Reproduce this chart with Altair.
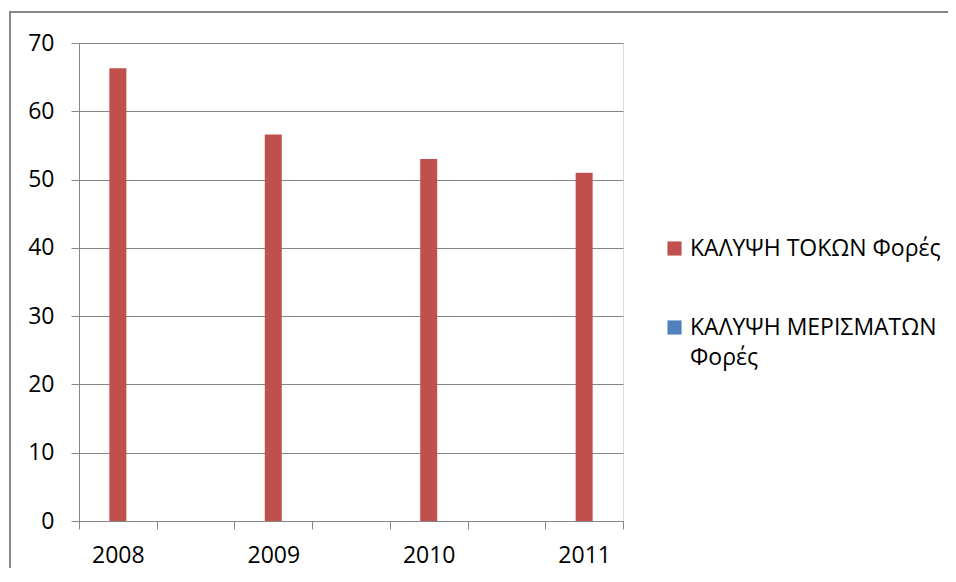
import altair as alt
import pandas as pd

# categories on the x axis (Excel-style blank slots between the years)
x_slots = ["2008", "·1", "2009", "·2", "2010", "·3", "2011"]
years = ["2008", "2009", "2010", "2011"]
series_names = ["ΚΑΛΥΨΗ ΤΟΚΩΝ Φορές", "ΚΑΛΥΨΗ ΜΕΡΙΣΜΑΤΩΝ Φορές"]
tokon_values = [66.3, 56.6, 53.0, 51.0]
colors = ["#C0504D", "#4F81BD"]

df = pd.DataFrame({
    "slot": years,
    "series": [series_names[0]] * len(years),
    "value": tokon_values,
})

FONT = "Open Sans"
GRID = "#868686"

bars = alt.Chart(df).mark_bar(size=17).encode(
    x=alt.X(
        "slot:N",
        sort=x_slots,
        scale=alt.Scale(domain=x_slots, paddingInner=0, paddingOuter=0),
        axis=alt.Axis(
            title=None,
            labelExpr="indexof(datum.label, '·') == 0 ? '' : datum.label",
            labelAngle=0,
            tickBand="extent",
            tickSize=8,
            tickColor=GRID,
            domainColor=GRID,
            labelPadding=15,
            labelFont=FONT,
            labelFontSize=23,
            labelColor="#000000",
            grid=False,
        ),
    ),
    y=alt.Y(
        "value:Q",
        scale=alt.Scale(domain=[0, 70], nice=False),
        axis=alt.Axis(
            title=None,
            values=[0, 10, 20, 30, 40, 50, 60, 70],
            tickSize=8,
            tickColor=GRID,
            domainColor=GRID,
            gridColor=GRID,
            grid=True,
            labelPadding=17,
            labelFont=FONT,
            labelFontSize=23,
            labelColor="#000000",
        ),
    ),
    color=alt.Color(
        "series:N",
        scale=alt.Scale(domain=series_names, range=colors),
        legend=alt.Legend(
            title=None,
            orient="none",
            legendX=584,
            legendY=194,
            symbolType="square",
            symbolSize=200,
            symbolStrokeWidth=0,
            labelFont=FONT,
            labelFontSize=23,
            labelColor="#000000",
            labelLimit=400,
            labelOffset=4,
            labelBaseline="middle",
            rowPadding=55,
            labelExpr="datum.label == 'ΚΑΛΥΨΗ ΜΕΡΙΣΜΑΤΩΝ Φορές' ? ['ΚΑΛΥΨΗ ΜΕΡΙΣΜΑΤΩΝ', 'Φορές'] : datum.label",
        ),
    ),
)

frame_top = alt.Chart(alt.Data(values=[{"f": 1}])).mark_rule(
    stroke="#878787", strokeWidth=2
).encode(x=alt.value(-70), x2=alt.value(869), y=alt.value(-31))

frame_left = alt.Chart(alt.Data(values=[{"f": 1}])).mark_rule(
    stroke="#878787", strokeWidth=2
).encode(x=alt.value(-69), y=alt.value(-32), y2=alt.value(525))

chart = alt.layer(bars, frame_top, frame_left).properties(
    width=544,
    height=478,
    autosize=alt.AutoSizeParams(type="none"),
    padding={"left": 71, "top": 35, "right": 325, "bottom": 52},
).configure_view(stroke=None).configure(
    font=FONT, style={"guide-label": {"lineHeight": 30}}
)

chart.save("out.html", embed_options={"renderer": "svg", "actions": False})
